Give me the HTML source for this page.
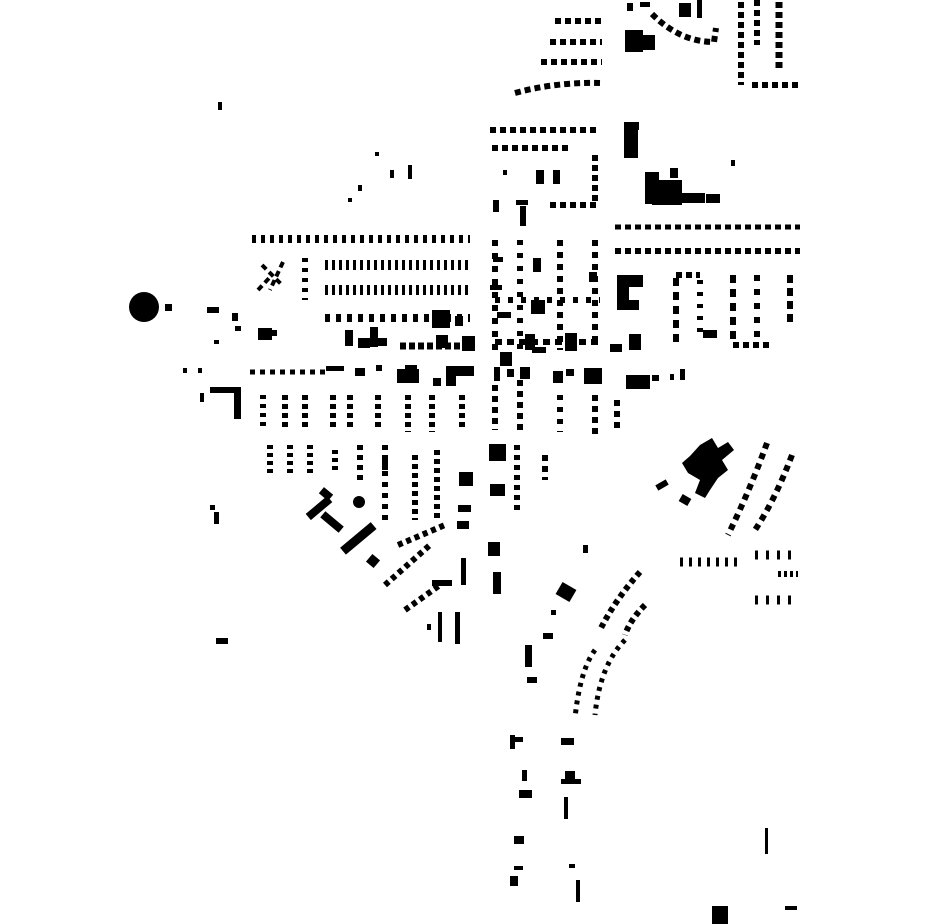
<!DOCTYPE html>
<html><head><style>html,body{margin:0;padding:0;background:#fff}svg{display:block}</style></head>
<body>
<svg width="930" height="924" viewBox="0 0 930 924" xmlns="http://www.w3.org/2000/svg">
<g fill="#000">
<circle cx="144" cy="307" r="15"/>
<rect x="165" y="304" width="7" height="7"/>
<rect x="218" y="102" width="4" height="8"/>
<rect x="207" y="307" width="12" height="6"/>
<rect x="232" y="313" width="6" height="8"/>
<rect x="235" y="326" width="6" height="5"/>
<rect x="214" y="340" width="5" height="4"/>
<rect x="258" y="328" width="14" height="12"/>
<rect x="272" y="330" width="5" height="6"/>
<rect x="375" y="152" width="4" height="4"/>
<rect x="390" y="170" width="4" height="8"/>
<rect x="408" y="165" width="4" height="14"/>
<rect x="358" y="185" width="4" height="6"/>
<rect x="348" y="198" width="4" height="4"/>
<!-- top cluster rows -->
<rect x="625" y="30" width="18" height="22"/>
<rect x="640" y="35" width="15" height="15"/>
<rect x="627" y="3" width="6" height="8"/>
<rect x="640" y="2" width="10" height="5"/>
<rect x="679" y="3" width="12" height="14"/>
<rect x="697" y="0" width="5" height="18"/>
<rect x="624" y="122" width="14" height="36"/>
<rect x="631" y="122" width="8" height="8"/>
<rect x="645" y="172" width="14" height="32"/>
<rect x="652" y="180" width="30" height="25"/>
<rect x="680" y="193" width="25" height="10"/>
<rect x="706" y="194" width="14" height="9"/>
<rect x="670" y="168" width="8" height="10"/>
<rect x="617" y="275" width="26" height="12"/>
<rect x="617" y="285" width="12" height="25"/>
<rect x="617" y="300" width="22" height="10"/>
<rect x="731" y="160" width="4" height="6"/>
<!-- mid big blocks -->
<rect x="345" y="330" width="8" height="16"/>
<rect x="358" y="338" width="12" height="10"/>
<rect x="370" y="327" width="8" height="20"/>
<rect x="375" y="338" width="12" height="8"/>
<rect x="436" y="335" width="12" height="13"/>
<rect x="462" y="336" width="13" height="15"/>
<rect x="500" y="352" width="12" height="14"/>
<rect x="525" y="334" width="10" height="16"/>
<rect x="532" y="347" width="14" height="6"/>
<rect x="565" y="333" width="12" height="18"/>
<rect x="629" y="334" width="12" height="16"/>
<rect x="610" y="344" width="12" height="8"/>
<rect x="432" y="310" width="18" height="18"/>
<rect x="455" y="316" width="8" height="10"/>
<rect x="531" y="300" width="14" height="14"/>
<rect x="497" y="312" width="14" height="6"/>
<rect x="533" y="258" width="8" height="14"/>
<rect x="589" y="272" width="8" height="10"/>
<rect x="536" y="170" width="8" height="14"/>
<rect x="553" y="170" width="7" height="14"/>
<rect x="503" y="170" width="4" height="5"/>
<rect x="516" y="200" width="12" height="5"/>
<rect x="520" y="206" width="6" height="20"/>
<rect x="493" y="200" width="6" height="12"/>
<rect x="493" y="257" width="10" height="5"/>
<rect x="490" y="285" width="12" height="5"/>
<rect x="703" y="330" width="14" height="8"/>
<!-- row of bigger blocks y~370 -->
<rect x="183" y="368" width="4" height="5"/>
<rect x="198" y="368" width="4" height="5"/>
<rect x="210" y="387" width="30" height="6"/>
<rect x="234" y="387" width="7" height="32"/>
<rect x="200" y="393" width="4" height="9"/>
<rect x="326" y="366" width="18" height="5"/>
<rect x="355" y="368" width="10" height="8"/>
<rect x="376" y="365" width="6" height="6"/>
<rect x="397" y="369" width="22" height="14"/>
<rect x="405" y="365" width="12" height="8"/>
<rect x="433" y="378" width="8" height="8"/>
<rect x="446" y="366" width="10" height="20"/>
<rect x="454" y="366" width="20" height="10"/>
<rect x="494" y="367" width="6" height="14"/>
<rect x="507" y="369" width="7" height="8"/>
<rect x="520" y="367" width="10" height="12"/>
<rect x="553" y="371" width="10" height="12"/>
<rect x="566" y="369" width="8" height="7"/>
<rect x="584" y="368" width="9" height="16"/>
<rect x="593" y="368" width="9" height="16"/>
<rect x="626" y="375" width="24" height="14"/>
<rect x="652" y="375" width="7" height="6"/>
<rect x="670" y="374" width="4" height="6"/>
<rect x="680" y="369" width="5" height="11"/>
<rect x="489" y="444" width="17" height="17"/>
<rect x="490" y="484" width="15" height="12"/>
<rect x="488" y="542" width="12" height="14"/>
<rect x="493" y="572" width="8" height="22"/>
<rect x="459" y="472" width="14" height="14"/>
<rect x="458" y="505" width="13" height="7"/>
<rect x="457" y="521" width="12" height="8"/>
<rect x="461" y="558" width="5" height="27"/>
<rect x="432" y="580" width="20" height="6"/>
<rect x="438" y="612" width="4" height="30"/>
<rect x="455" y="612" width="5" height="32"/>
<rect x="427" y="624" width="4" height="6"/>
<rect x="353" y="496" width="12" height="12" rx="6"/>
<rect x="368" y="556" width="10" height="10" transform="rotate(40 373 561)"/>
<rect x="210" y="505" width="5" height="5"/>
<rect x="214" y="512" width="5" height="12"/>
<rect x="216" y="638" width="12" height="6"/>
<!-- diagonal complex -->
<rect x="305" y="504" width="28" height="8" transform="rotate(-40 319 508)"/>
<rect x="320" y="518" width="24" height="8" transform="rotate(40 332 522)"/>
<rect x="338" y="534" width="40" height="9" transform="rotate(-40 358 538)"/>
<rect x="320" y="490" width="12" height="8" transform="rotate(40 326 494)"/>
<!-- hospital -->
<path d="M700 445 L712 438 L718 448 L728 442 L734 450 L722 460 L728 470 L718 478 L710 490 L705 498 L695 493 L700 480 L688 473 L682 463 L690 456 Z"/>
<rect x="656" y="482" width="12" height="6" transform="rotate(-30 662 485)"/>
<rect x="680" y="496" width="10" height="8" transform="rotate(30 685 500)"/>
<rect x="558" y="585" width="16" height="14" transform="rotate(30 566 592)"/>
<rect x="551" y="610" width="5" height="5"/>
<rect x="543" y="633" width="10" height="6"/>
<rect x="525" y="645" width="7" height="22"/>
<rect x="527" y="677" width="10" height="6"/>
<rect x="510" y="735" width="5" height="14"/>
<rect x="510" y="737" width="13" height="5"/>
<rect x="561" y="738" width="13" height="7"/>
<rect x="522" y="770" width="5" height="11"/>
<rect x="565" y="771" width="10" height="8"/>
<rect x="561" y="779" width="20" height="5"/>
<rect x="519" y="790" width="13" height="8"/>
<rect x="564" y="797" width="4" height="22"/>
<rect x="514" y="836" width="10" height="8"/>
<rect x="514" y="866" width="9" height="4"/>
<rect x="510" y="876" width="8" height="10"/>
<rect x="569" y="864" width="6" height="4"/>
<rect x="576" y="880" width="4" height="22"/>
<rect x="712" y="906" width="16" height="18"/>
<rect x="785" y="906" width="12" height="4"/>
<rect x="765" y="828" width="3" height="26"/>
<rect x="583" y="545" width="5" height="8"/>
</g>
<g fill="none" stroke="#000" stroke-width="6" stroke-dasharray="6 4">
<!-- top rows -->
<path d="M555 21 H602"/>
<path d="M550 42 H602"/>
<path d="M541 62 H602"/>
<path d="M515 93 Q555 82 600 83"/>
<path d="M490 130 H600"/>
<path d="M492 148 H570"/>
<path d="M652 14 Q680 42 714 42 L716 28"/>
<path d="M741 2 V85"/>
<path d="M757 0 V45"/>
<path d="M779 2 V68" stroke-width="7"/>
<path d="M752 85 H800"/>
<path d="M595 155 V205"/>
<path d="M550 205 H600"/>
<!-- rows right -->
<path d="M615 227 H800" stroke-width="5"/>
<path d="M615 251 H800" stroke-width="6"/>
<path d="M676 278 V345" stroke-dasharray="8 6"/>
<path d="M700 280 V340" stroke-dasharray="4 8"/>
<path d="M733 275 V345" stroke-dasharray="8 6"/>
<path d="M757 275 V345" stroke-dasharray="6 8"/>
<path d="M790 275 V325" stroke-dasharray="8 5"/>
<path d="M676 275 H700"/>
<path d="M733 345 H770"/>
<!-- left grid rows -->
<path d="M252 239 H470" stroke-width="8" stroke-dasharray="4 5"/>
<path d="M325 265 H470" stroke-width="10" stroke-dasharray="3 4"/>
<path d="M325 290 H470" stroke-width="10" stroke-dasharray="3 4"/>
<path d="M325 318 H470" stroke-width="8" stroke-dasharray="5 6"/>
<path d="M400 346 H475" stroke-width="7" stroke-dasharray="6 3"/>
<path d="M305 258 V300" stroke-dasharray="4 6"/>
<path d="M262 265 L282 285 M258 290 L272 275 M283 262 L270 290" stroke-width="4"/>
<!-- middle columns -->
<path d="M495 240 V350" stroke-dasharray="6 7"/>
<path d="M520 240 V350" stroke-dasharray="5 8"/>
<path d="M560 240 V350" stroke-dasharray="6 6"/>
<path d="M595 240 V345" stroke-dasharray="6 6"/>
<path d="M495 300 H600" stroke-dasharray="5 8"/>
<path d="M495 342 H600" stroke-dasharray="7 5"/>
<!-- rows y~370 and blocks below -->
<path d="M250 372 H325" stroke-width="5" stroke-dasharray="5 5"/>
<path d="M263 395 V428" stroke-dasharray="4 5"/>
<path d="M285 395 V430" stroke-dasharray="5 4"/>
<path d="M305 395 V430" stroke-dasharray="5 4"/>
<path d="M333 395 V430" stroke-dasharray="5 4"/>
<path d="M350 395 V430" stroke-dasharray="5 4"/>
<path d="M378 395 V430" stroke-dasharray="5 4"/>
<path d="M408 395 V432" stroke-dasharray="5 4"/>
<path d="M432 395 V432" stroke-dasharray="5 4"/>
<path d="M462 395 V430" stroke-dasharray="5 4"/>
<path d="M495 385 V430" stroke-dasharray="6 5"/>
<path d="M520 380 V432" stroke-dasharray="6 5"/>
<path d="M560 395 V432" stroke-dasharray="5 7"/>
<path d="M595 395 V435" stroke-dasharray="6 5"/>
<path d="M617 400 V430" stroke-dasharray="6 5"/>
<path d="M270 445 V475" stroke-dasharray="4 4"/>
<path d="M290 445 V475" stroke-dasharray="4 4"/>
<path d="M310 445 V475" stroke-dasharray="4 4"/>
<path d="M335 450 V470" stroke-dasharray="4 4"/>
<path d="M360 445 V480" stroke-dasharray="5 5"/>
<path d="M385 445 V475" stroke-dasharray="5 5"/>
<path d="M385 460 V525" stroke-dasharray="5 6"/>
<path d="M415 455 V520" stroke-dasharray="5 4"/>
<path d="M437 450 V520" stroke-dasharray="5 4"/>
<path d="M517 445 V515" stroke-dasharray="5 5"/>
<path d="M545 455 V480" stroke-dasharray="6 5"/>
<!-- curved rows -->
<path d="M398 545 L445 525" stroke-dasharray="5 4"/>
<path d="M385 585 L430 545" stroke-dasharray="5 4"/>
<path d="M405 610 L440 585" stroke-dasharray="5 4"/>
<path d="M767 443 Q750 490 728 535" stroke-dasharray="6 5"/>
<path d="M792 455 Q775 500 755 530" stroke-dasharray="6 5"/>
<path d="M640 572 Q615 600 600 630" stroke-dasharray="5 4"/>
<path d="M645 605 Q630 620 625 635" stroke-dasharray="5 4"/>
<path d="M625 640 Q600 665 595 715" stroke-dasharray="4 5" stroke-width="5"/>
<path d="M595 650 Q580 670 575 718" stroke-dasharray="4 5" stroke-width="5"/>
<path d="M680 562 H740" stroke-width="9" stroke-dasharray="3 6"/>
<path d="M755 555 H795" stroke-width="9" stroke-dasharray="3 8"/>
<path d="M778 574 H798" stroke-width="6" stroke-dasharray="3 3"/>
<path d="M755 600 H795" stroke-width="9" stroke-dasharray="3 8"/>
</g>
</svg>
</body></html>
